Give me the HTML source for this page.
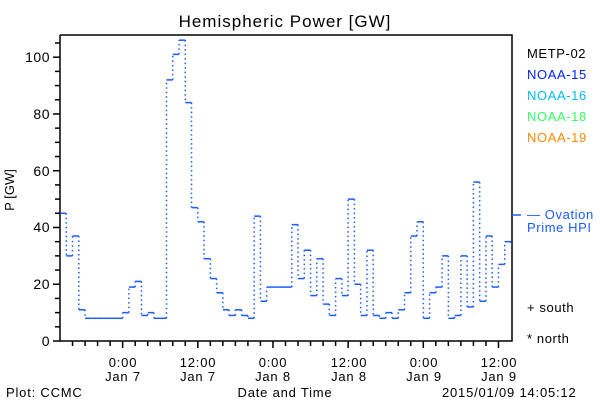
<!DOCTYPE html>
<html><head><meta charset="utf-8"><style>
html,body{margin:0;padding:0;background:#fff;}
svg{display:block;font-family:"Liberation Sans",sans-serif;}
</style></head><body>
<svg id="s" width="600" height="400" xmlns="http://www.w3.org/2000/svg">
<rect width="600" height="400" fill="#fff"/>
<text x="285" y="27" font-size="17" text-anchor="middle" fill="#000" letter-spacing="1">Hemispheric Power [GW]</text>
<g id="ax" stroke="#000" stroke-width="1.5" fill="none">
<polyline points="60,35 60,341 512,341 512,35 60,35"/>
</g>
<g font-size="14" fill="#000" text-anchor="end" letter-spacing="0.5">
<text x="50" y="346">0</text><text x="50" y="289">20</text><text x="50" y="232">40</text>
<text x="50" y="176">60</text><text x="50" y="119">80</text><text x="50" y="62">100</text>
</g>
<text transform="translate(14,190) rotate(-90)" font-size="13" text-anchor="middle">P [GW]</text>
<g font-size="13" fill="#000" text-anchor="middle" letter-spacing="0.8">
<text x="123" y="367">0:00</text><text x="123" y="381">Jan 7</text>
<text x="198" y="367">12:00</text><text x="198" y="381">Jan 7</text>
<text x="273" y="367">0:00</text><text x="273" y="381">Jan 8</text>
<text x="349" y="367">12:00</text><text x="349" y="381">Jan 8</text>
<text x="424" y="367">0:00</text><text x="424" y="381">Jan 9</text>
<text x="499" y="367">12:00</text><text x="499" y="381">Jan 9</text>
</g>
<g font-size="13" fill="#000" letter-spacing="0.8">
<text x="6" y="397">Plot: CCMC</text>
<text x="285" y="397" text-anchor="middle">Date and Time</text>
<text x="442" y="397">2015/01/09 14:05:12</text>
</g>
<g font-size="13" letter-spacing="0.6">
<text x="527" y="58" fill="#000">METP-02</text>
<text x="527" y="79" fill="#0022ff">NOAA-15</text>
<text x="527" y="100" fill="#00bbff">NOAA-16</text>
<text x="527" y="121" fill="#33ff66">NOAA-18</text>
<text x="527" y="142" fill="#ff8800">NOAA-19</text>
<text x="527" y="219" fill="#1a5cff">— Ovation</text>
<text x="527" y="232" fill="#1a5cff">Prime HPI</text>
<text x="527" y="312" fill="#000">+ south</text>
<text x="527" y="343" fill="#000">* north</text>
</g>
<line x1="512" y1="215" x2="521" y2="215" stroke="#1a5cff" stroke-width="1.5"/>
<g id="d"></g>
</svg>
<script>
var v=[45,30,37,11,8,8,8,8,8,8,10,19,21,9,10,8,8,92,101,106,84,47,42,29,22,17,11,9,11,9,8,44,14,19,19,19,19,41,22,32,16,29,13,9,22,16,50,20,9,32,9,8,10,8,11,17,37,42,8,17,19,30,8,9,30,12,56,14,37,19,27,35,34];
var ns="http://www.w3.org/2000/svg",s=document.getElementById("s"),d=document.getElementById("d"),ax=document.getElementById("ax");
function L(p,x1,y1,x2,y2,st,c,w,da){var l=document.createElementNS(ns,"line");l.setAttribute("x1",x1);l.setAttribute("y1",y1);l.setAttribute("x2",x2);l.setAttribute("y2",y2);l.setAttribute("stroke",c);l.setAttribute("stroke-width",w);if(da)l.setAttribute("stroke-dasharray",da);p.appendChild(l);}
function Y(val){return 341-val*2.838;}
var hw=451/72;
for(var i=0;i<v.length;i++){var x1=60+i*hw,x2=Math.min(512,x1+hw);if(x1>=512)break;
L(d,x1,Y(v[i]),x2,Y(v[i]),0,"#1a5cff",1.5);
if(i>0)L(d,x1,Y(v[i-1]),x1,Y(v[i]),0,"#1a5cff",1.5,"1.5 3");}
for(var k=0;k<=105;k+=5){var y=Y(k);if(y<35)break;L(ax,k%20==0?53:55,y,60,y,0,"#000",1.5);}
for(var h=2;h<72;h+=2){var x=60+h*hw;L(ax,x,341,x,(h%12==10)?348:346,0,"#000",1.5);}
</script>
</body></html>
